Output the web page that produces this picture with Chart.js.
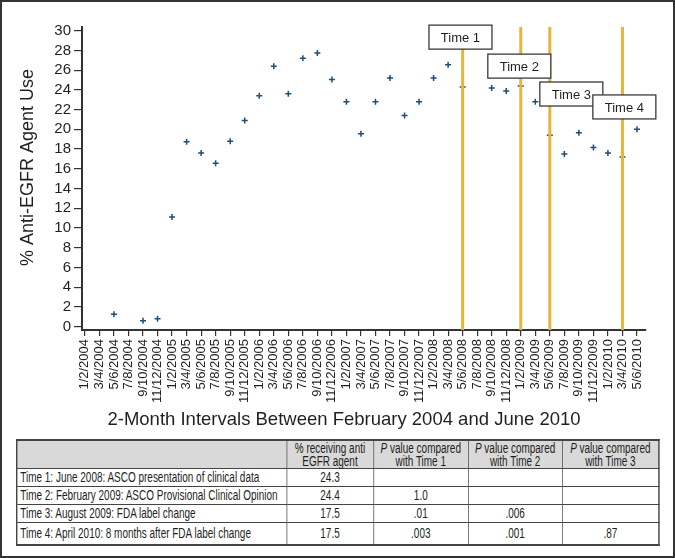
<!DOCTYPE html>
<html lang="en">
<head>
<meta charset="UTF-8">
<title>Anti-EGFR Agent Use</title>
<script src="https://cdn.jsdelivr.net/npm/chart.js"></script>
<style>
    body {
        margin: 0;
        background: #fff;
        font-family: 'Liberation Sans', Arial, Helvetica, sans-serif;
        color: #231f20;
    }
    #frame {
        position: absolute;
        left: 0;
        top: 0;
        width: 675px;
        height: 558px;
        box-sizing: border-box;
        border: 2px solid #333;
    }
    #chart-box {
        position: absolute;
        left: 0;
        top: 0;
        width: 675px;
        height: 435px;
    }
    /* no narrow font installed: lay the table out wide and squeeze it horizontally */
    table {
        position: absolute;
        left: 16px;
        top: 439px;
        width: 902px;
        transform: scaleX(0.712);
        transform-origin: 0 0;
        border-collapse: collapse;
        border: 2px solid #444;
        font-family: 'Liberation Sans', Arial, sans-serif;
        font-size: 14px;
        color: #231f20;
        table-layout: fixed;
    }
    th, td {
        border: 1px solid #444;
        padding: 0 3px;
    }
    th {
        background: #d9d9d9;
        font-weight: normal;
        line-height: 13px;
        height: 27px;
        text-align: center;
    }
    td {
        height: 17px;
        line-height: 15px;
        text-align: center;
        white-space: nowrap;
    }
    tr.last td {
        height: 21px;
    }
    td.label {
        text-align: left;
        padding-left: 4px;
    }
</style>
</head>
<body>
<div id="frame"></div>
<div id="chart-box"><canvas id="chart" width="675" height="435"></canvas></div>

<table>
    <colgroup>
        <col style="width:379px"><col style="width:122px"><col style="width:133px"><col style="width:132px"><col style="width:136px">
    </colgroup>
    <tr>
        <th></th>
        <th>% receiving anti EGFR agent</th>
        <th><i>P</i> value compared with Time 1</th>
        <th><i>P</i> value compared with Time 2</th>
        <th><i>P</i> value compared with Time 3</th>
    </tr>
    <tr><td class="label">Time 1: June 2008: ASCO presentation of clinical data</td><td>24.3</td><td></td><td></td><td></td></tr>
    <tr><td class="label">Time 2: February 2009: ASCO Provisional Clinical Opinion</td><td>24.4</td><td>1.0</td><td></td><td></td></tr>
    <tr><td class="label">Time 3: August 2009: FDA label change</td><td>17.5</td><td>.01</td><td>.006</td><td></td></tr>
    <tr class="last"><td class="label">Time 4: April 2010: 8 months after FDA label change</td><td>17.5</td><td>.003</td><td>.001</td><td>.87</td></tr>
</table>

<script>
// 2-month interval labels, Feb 2004 .. Jun 2010
const xLabels = [
    '1/2/2004', '3/4/2004', '5/6/2004', '7/8/2004', '9/10/2004', '11/12/2004',
    '1/2/2005', '3/4/2005', '5/6/2005', '7/8/2005', '9/10/2005', '11/12/2005',
    '1/2/2006', '3/4/2006', '5/6/2006', '7/8/2006', '9/10/2006', '11/12/2006',
    '1/2/2007', '3/4/2007', '5/6/2007', '7/8/2007', '9/10/2007', '11/12/2007',
    '1/2/2008', '3/4/2008', '5/6/2008', '7/8/2008', '9/10/2008', '11/12/2008',
    '1/2/2009', '3/4/2009', '5/6/2009', '7/8/2009', '9/10/2009', '11/12/2009',
    '1/2/2010', '3/4/2010', '5/6/2010'
];

// % anti-EGFR agent use per interval (null = no point)
const useValues = [
    null, null, 1.25, null, 0.6, 0.8,
    11.1, 18.75, 17.6, 16.55, 18.8, 20.9,
    23.4, 26.4, 23.6, 27.2, 27.75, 25.05,
    22.8, 19.55, 22.8, 25.2, 21.4, 22.8,
    25.2, 26.55, 24.3, null, 24.2, 23.9,
    24.4, 22.8, 19.4, 17.5, 19.65, 18.15,
    17.6, 17.2, 20.0
];

const yTicks = [0, 2, 4, 6, 8, 10, 12, 14, 16, 18, 20, 22, 24, 26, 28, 30];

// reference time points: interval index of each line, and where its label box sits
const timeNames = ['Time 1', 'Time 2', 'Time 3', 'Time 4'];
const timeIndex = [26, 30, 32, 37];
const boxCenterX = [25.85, 29.9, 33.48, 37.13];
const boxTopY = [30.57, 27.63, 24.8, 23.49];

const points = [];
useValues.forEach((v, i) => {
    if (v !== null) points.push({ x: i, y: v });
});

const fontFam = "'Liberation Sans', Arial, Helvetica, sans-serif";
const inkColor = '#231f20';

const timeMarkers = {
    id: 'timeMarkers',
    afterDatasetsDraw(chart) {
        const { ctx, chartArea, scales } = chart;
        ctx.save();
        ctx.strokeStyle = '#e8b43c';
        ctx.lineWidth = 3;
        timeIndex.forEach(idx => {
            const x = scales.x.getPixelForValue(idx);
            ctx.beginPath();
            ctx.moveTo(x, chartArea.top);
            ctx.lineTo(x, chartArea.bottom);
            ctx.stroke();
        });
        ctx.font = '13px ' + fontFam;
        ctx.textAlign = 'center';
        ctx.textBaseline = 'middle';
        timeNames.forEach((name, i) => {
            const cx = scales.x.getPixelForValue(boxCenterX[i]);
            const top = scales.y.getPixelForValue(boxTopY[i]);
            const w = 63, h = 24;
            ctx.fillStyle = '#fff';
            ctx.fillRect(cx - w / 2, top, w, h);
            ctx.strokeStyle = '#3a3a3a';
            ctx.lineWidth = 1.3;
            ctx.strokeRect(cx - w / 2, top, w, h);
            ctx.fillStyle = inkColor;
            ctx.fillText(name, cx, top + h / 2 + 1);
        });
        ctx.restore();
    },
    afterDraw(chart) {
        const { ctx, chartArea } = chart;
        ctx.save();
        ctx.fillStyle = inkColor;
        ctx.textAlign = 'center';
        ctx.textBaseline = 'middle';
        ctx.font = '18.5px ' + fontFam;
        ctx.fillText('2-Month Intervals Between February 2004 and June 2010', 344, 420);
        ctx.translate(28, (chartArea.top + chartArea.bottom) / 2 - 11);
        ctx.rotate(-Math.PI / 2);
        ctx.font = '18px ' + fontFam;
        ctx.fillText('% Anti-EGFR Agent Use', 0, 0);
        ctx.restore();
    }
};

new Chart(document.getElementById('chart'), {
    type: 'scatter',
    data: {
        datasets: [{
            data: points,
            pointStyle: 'cross',
            pointRadius: 3,
            pointBorderWidth: 1.5,
            borderColor: '#1f4e79',
            backgroundColor: '#1f4e79'
        }]
    },
    options: {
        responsive: false,
        animation: false,
        devicePixelRatio: 1,
        layout: { padding: { top: 27, right: 29, left: 0, bottom: 0 } },
        plugins: {
            legend: { display: false },
            tooltip: { enabled: false }
        },
        scales: {
            x: {
                type: 'linear',
                min: -0.2,
                max: 38.62,
                afterBuildTicks: axis => { axis.ticks = xLabels.map((_, i) => ({ value: i })); },
                afterFit: axis => { axis.height = 105; },
                ticks: {
                    autoSkip: false,
                    minRotation: 90,
                    maxRotation: 90,
                    padding: 3,
                    color: inkColor,
                    font: { family: fontFam, size: 13 },
                    callback: v => xLabels[v]
                },
                grid: { drawOnChartArea: false, tickLength: 6, color: '#333', lineWidth: 1.2 },
                border: { color: '#333', width: 2 }
            },
            y: {
                min: -0.35,
                max: 30.38,
                afterBuildTicks: axis => { axis.ticks = yTicks.map(v => ({ value: v })); },
                afterFit: axis => { axis.width = 82; },
                ticks: {
                    autoSkip: false,
                    padding: 3,
                    color: inkColor,
                    font: { family: fontFam, size: 15 }
                },
                grid: { drawOnChartArea: false, tickLength: 8, color: '#333', lineWidth: 1.2 },
                border: { color: '#333', width: 2 }
            }
        }
    },
    plugins: [timeMarkers]
});
</script>
</body>
</html>
